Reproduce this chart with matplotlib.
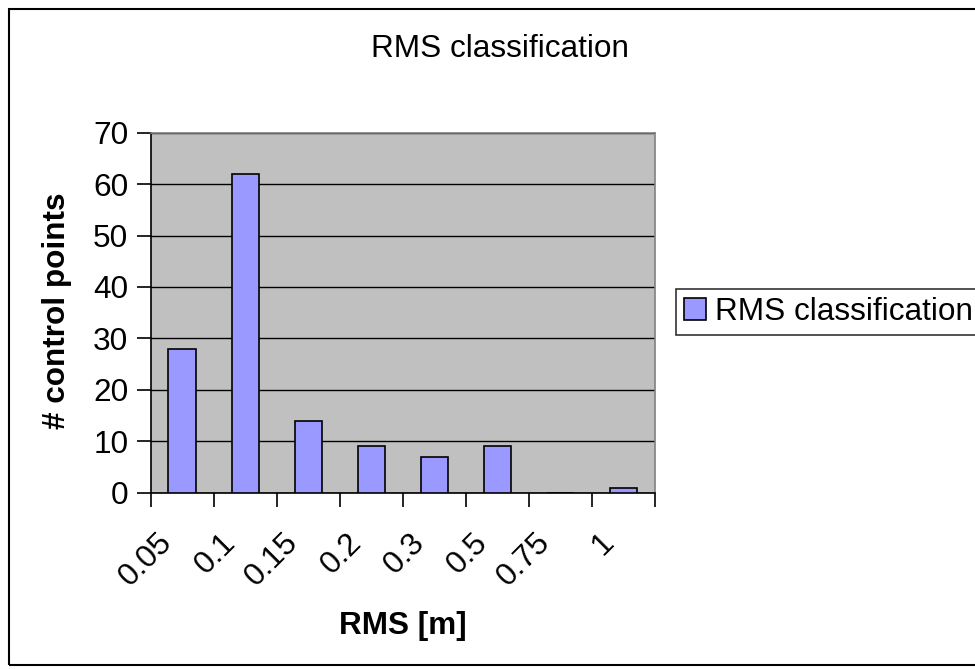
import numpy as np
import matplotlib
matplotlib.use("Agg")
import matplotlib.pyplot as plt
from matplotlib.patches import Rectangle
from matplotlib.transforms import ScaledTranslation

# data
categories = ["0.05", "0.1", "0.15", "0.2", "0.3", "0.5", "0.75", "1"]
counts = [28, 62, 14, 9, 7, 9, 0, 1]
y_ticks = [0, 10, 20, 30, 40, 50, 60, 70]

plt.rcParams['font.family'] = ['Liberation Sans', 'DejaVu Sans']
fs = 22.7

W, H = 975, 669
fig = plt.figure(figsize=(W / 100, H / 100), dpi=100)

# chart border (cut off on the right like the original)
fig.patches.append(Rectangle((9 / W, 1 - 665 / H), 2.0, (665 - 9) / H,
                             transform=fig.transFigure, fill=False,
                             edgecolor="black", linewidth=1.5))

ax = fig.add_axes([150.5 / W, 1 - 492.7 / H, (655 - 150.5) / W, (492.7 - 132.7) / H])
ax.set_facecolor("#C0C0C0")

x = np.arange(len(categories))
ax.bar(x, counts, width=0.43, color="#9999FF", edgecolor="black", linewidth=1.2,
       label="RMS classification", zorder=3)

ax.set_xlim(-0.5, len(categories) - 0.5)
ax.set_ylim(0, 70)
ax.set_yticks(y_ticks)
ax.yaxis.grid(True, color="black", linewidth=1.0, zorder=1)
ax.set_axisbelow(True)

# ticks at category boundaries, labels at category centres
ax.set_xticks(np.arange(len(categories) + 1) - 0.5)
ax.set_xticklabels([])
ax.set_xticks(x, minor=True)
ax.set_xticklabels(categories, minor=True, rotation=45, ha="right",
                   va="top", rotation_mode="anchor", fontsize=fs)
ax.tick_params(axis="x", which="minor", length=0, pad=25)
ax.tick_params(axis="x", which="major", length=10, width=1.2, direction="out")
ax.tick_params(axis="y", length=10, width=1.2, direction="out", labelsize=fs, pad=6)
shift = ScaledTranslation(-25 / 100, 0, fig.dpi_scale_trans)
for lbl in ax.get_xticklabels(minor=True):
    lbl.set_transform(lbl.get_transform() + shift)

for s in ["top", "right"]:
    ax.spines[s].set_color("#808080")
    ax.spines[s].set_linewidth(1.2)
for s in ["left", "bottom"]:
    ax.spines[s].set_color("black")
    ax.spines[s].set_linewidth(1.2)

fig.text(500 / W, 1 - 49 / H, "RMS classification", ha="center", va="center", fontsize=fs)
fig.text(403 / W, 1 - 626 / H, "RMS [m]", ha="center", va="center",
         fontsize=fs, fontweight="bold")
fig.text(57 / W, 1 - 311 / H, "# control points", ha="center", va="center",
         fontsize=fs, fontweight="bold", rotation=90)

leg = fig.legend(loc="upper left", bbox_to_anchor=(676 / W, 1 - 289 / H),
                 fontsize=fs, frameon=True, fancybox=False, edgecolor="black",
                 handlelength=0.7, handleheight=0.7, handletextpad=0.3,
                 borderpad=0.25, borderaxespad=0)
leg.get_frame().set_linewidth(1.2)

fig.savefig("out.png", dpi=100)
